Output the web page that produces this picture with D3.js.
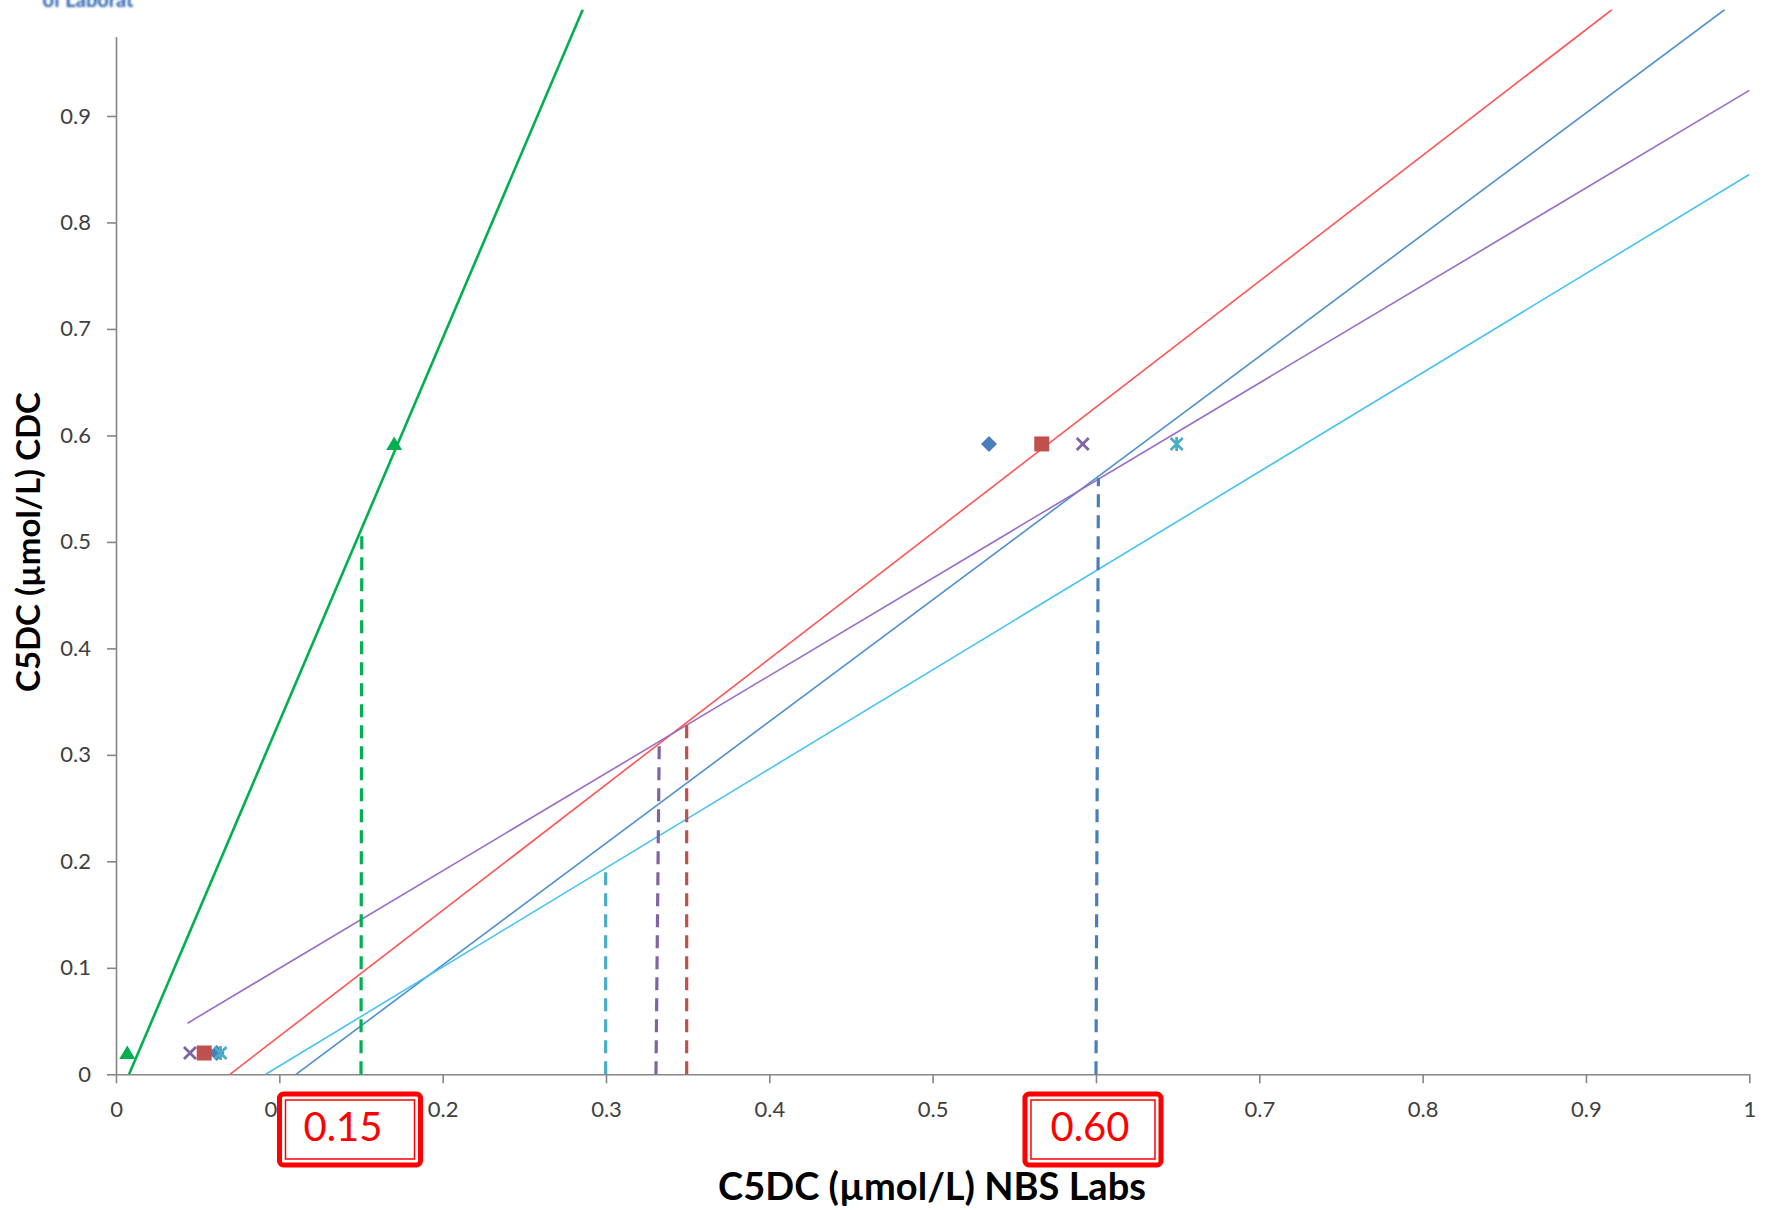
<!DOCTYPE html>
<html>
<head>
<meta charset="utf-8">
<script src="https://cdn.jsdelivr.net/npm/d3@7"></script>
<style>
  html, body { margin: 0; padding: 0; background: #ffffff; }
  svg { display: block; }
</style>
</head>
<body>
<svg id="chart" width="1771" height="1210"></svg>
<script>
// ---------------- DATA ----------------
const xTicks = [0, 0.1, 0.2, 0.3, 0.4, 0.5, 0.6, 0.7, 0.8, 0.9, 1];
const yTicks = [0, 0.1, 0.2, 0.3, 0.4, 0.5, 0.6, 0.7, 0.8, 0.9];
const xTickLabels = ["0", "0.1", "0.2", "0.3", "0.4", "0.5", "0.6", "0.7", "0.8", "0.9", "1"];
const yTickLabels = ["0", "0.1", "0.2", "0.3", "0.4", "0.5", "0.6", "0.7", "0.8", "0.9"];

// five series, each with a low and a high point
const seriesNames   = ["diamond", "square", "triangle", "cross", "star"];
const seriesLowX    = [0.0616, 0.054, 0.0069, 0.0453, 0.064];
const seriesHighX   = [0.5345, 0.5668, 0.1703, 0.5919, 0.6494];
const seriesLowY    = [0.02, 0.02, 0.02, 0.02, 0.02];
const seriesHighY   = [0.592, 0.592, 0.592, 0.592, 0.592];

// fitted lines (start / end points in data units)
const lineNames = ["green", "red", "blue", "purple", "cyan"];
const lineX0 = [0.008, 0.0698, 0.1102, 0.0438, 0.0917];
const lineY0 = [0, 0, 0, 0.048, 0];
const lineX1 = [0.2858, 0.916, 0.985, 1.0, 1.0];
const lineY1 = [1.0, 1.0, 1.0, 0.924, 0.845];

// dashed cut-off drop lines
const dropNames = ["green", "cyan", "purple", "red", "blue"];
const dropXBottom = [0.150, 0.2998, 0.3306, 0.3494, 0.600];
const dropXTop    = [0.1505, 0.2998, 0.3326, 0.3494, 0.6015];
const dropYTop    = [0.510, 0.1966, 0.311, 0.328, 0.560];

// boxed annotations
const annotationValues = [0.15, 0.60];
const annotationLabels = ["0.15", "0.60"];

const xTitle = "C5DC (µmol/L) NBS Labs";
const yTitle = "C5DC (µmol/L) CDC";

// ---------------- STYLE ----------------
const markerColors = {diamond: "#4a7ebb", square: "#c0504d", triangle: "#00b050", cross: "#8064a2", star: "#4bacc6"};
const lineColors = {green: "#00b050", red: "#ff5454", blue: "#4f8fce", purple: "#9a6cc8", cyan: "#45c3f3"};
const lineWidths = {green: 2.6, red: 1.6, blue: 1.6, purple: 1.6, cyan: 1.6};
const dropColors = {green: "#00b050", cyan: "#4bacc6", purple: "#8064a2", red: "#c0504d", blue: "#4a7ebb"};

const svg = d3.select("#chart");
const FONT = "Lato, 'Open Sans', sans-serif";

const plotLeft = 116, plotRight = 1749.3, plotBottom = 1074.3, plotTop = 9.5;
const x = d3.scaleLinear().domain([0, 1]).range([plotLeft, plotRight]);
const y = d3.scaleLinear().domain([0, 1]).range([plotBottom, plotTop]);

// ---------------- AXES ----------------
const axisColor = "#868686";
const gx = svg.append("g").attr("transform", `translate(0,${plotBottom})`)
  .call(d3.axisBottom(x).tickValues(xTicks).tickSize(9).tickSizeOuter(0)
        .tickFormat((d, i) => xTickLabels[i]));
gx.select(".domain").attr("stroke", axisColor).attr("stroke-width", 1.6);
gx.selectAll(".tick line").attr("stroke", axisColor).attr("stroke-width", 1.6);
gx.selectAll(".tick text").attr("dy", null).attr("y", 43)
  .attr("font-family", FONT).attr("font-size", 22).attr("fill", "#404040");

const gy = svg.append("g").attr("transform", `translate(${plotLeft},0)`)
  .call(d3.axisLeft(y).tickValues(yTicks).tickSize(9).tickSizeOuter(0).tickPadding(16)
        .tickFormat((d, i) => yTickLabels[i]));
gy.select(".domain").attr("stroke", axisColor).attr("stroke-width", 1.6);
gy.selectAll(".tick line").attr("stroke", axisColor).attr("stroke-width", 1.6);
gy.selectAll(".tick text").attr("font-family", FONT).attr("font-size", 22).attr("fill", "#404040");

// ---------------- FITTED LINES ----------------
const clipId = "plotclip";
svg.append("clipPath").attr("id", clipId).append("rect")
  .attr("x", plotLeft).attr("y", plotTop).attr("width", plotRight - plotLeft + 2).attr("height", plotBottom - plotTop);

const lineData = lineNames.map((n, i) => ({name: n, x0: lineX0[i], y0: lineY0[i], x1: lineX1[i], y1: lineY1[i]}));
svg.append("g").attr("clip-path", `url(#${clipId})`)
  .selectAll("line").data(lineData).join("line")
  .attr("x1", d => x(d.x0)).attr("y1", d => y(d.y0))
  .attr("x2", d => x(d.x1)).attr("y2", d => y(d.y1))
  .attr("stroke", d => lineColors[d.name])
  .attr("stroke-width", d => lineWidths[d.name]);

// ---------------- DROP LINES ----------------
const dropData = dropNames.map((n, i) => ({name: n, xb: dropXBottom[i], xt: dropXTop[i], yt: dropYTop[i]}));
svg.append("g").selectAll("line").data(dropData).join("line")
  .attr("x1", d => x(d.xb)).attr("y1", y(0))
  .attr("x2", d => x(d.xt)).attr("y2", d => y(d.yt))
  .attr("stroke", d => dropColors[d.name])
  .attr("stroke-width", 3.2)
  .attr("stroke-dasharray", "13,8");

// ---------------- MARKERS ----------------
const points = [];
seriesNames.forEach((n, i) => {
  points.push({name: n, x: seriesLowX[i], y: seriesLowY[i]});
  points.push({name: n, x: seriesHighX[i], y: seriesHighY[i]});
});

const mg = svg.append("g");
points.forEach(p => {
  const cx = x(p.x), cy = y(p.y), c = markerColors[p.name];
  const g = mg.append("g").attr("transform", `translate(${cx},${cy})`);
  if (p.name === "diamond") {
    g.append("path").attr("d", "M0,-8 L8,0 L0,8 L-8,0 Z").attr("fill", c);
  } else if (p.name === "square") {
    g.append("rect").attr("x", -7.5).attr("y", -7.5).attr("width", 15).attr("height", 15).attr("fill", c);
  } else if (p.name === "triangle") {
    g.append("path").attr("d", "M0,-7.5 L8,6 L-8,6 Z").attr("fill", c);
  } else if (p.name === "cross") {
    g.append("path").attr("d", "M-6,-6 L6,6 M6,-6 L-6,6").attr("stroke", c).attr("stroke-width", 2.8).attr("fill", "none");
  } else if (p.name === "star") {
    g.append("path").attr("d", "M-6,-6 L6,6 M6,-6 L-6,6 M0,-7 L0,7").attr("stroke", c).attr("stroke-width", 2.8).attr("fill", "none");
  }
});

// ---------------- BOXED ANNOTATIONS ----------------
const boxW = [141, 136], boxH = 71;
const boxOffsets = [-11, -3];
const textOffsets = [-7, -3];
annotationValues.forEach((v, i) => {
  const cx = x(v) + boxOffsets[i];
  const top = 1094;
  const w = boxW[i];
  const g = svg.append("g");
  g.append("rect").attr("x", cx - w / 2).attr("y", top).attr("width", w).attr("height", boxH)
    .attr("rx", 4).attr("fill", "#ffffff").attr("stroke", "#ff0000").attr("stroke-width", 5);
  g.append("rect").attr("x", cx - w / 2 + 6).attr("y", top + 6).attr("width", w - 12).attr("height", boxH - 12)
    .attr("fill", "none").attr("stroke", "#ff0000").attr("stroke-width", 1.5);
  g.append("text").attr("x", cx + textOffsets[i]).attr("y", top + 47).attr("text-anchor", "middle")
    .attr("font-family", FONT).attr("font-size", 40).attr("fill", "#ff0000").text(annotationLabels[i]);
});

// ---------------- AXIS TITLES ----------------
svg.append("text").attr("x", 932).attr("y", 1200).attr("text-anchor", "middle")
  .attr("font-family", FONT).attr("font-weight", "bold").attr("font-size", 38).attr("fill", "#000")
  .text(xTitle);
svg.append("text").attr("transform", "translate(40,542) rotate(-90)").attr("text-anchor", "middle")
  .attr("font-family", FONT).attr("font-weight", "bold").attr("font-size", 33).attr("fill", "#000")
  .text(yTitle);

// ---------------- LOGO FRAGMENT (top-left, cropped) ----------------
const logo = svg.append("g");
logo.append("rect").attr("x", 0).attr("y", 0).attr("width", 150).attr("height", 37).attr("fill", "#ffffff");
const defs = svg.append("defs");
defs.append("filter").attr("id", "soft").append("feGaussianBlur").attr("stdDeviation", 0.8);
logo.append("clipPath").attr("id", "logoclip").append("rect").attr("x", 0).attr("y", 0).attr("width", 150).attr("height", 9);
logo.append("g").attr("clip-path", "url(#logoclip)")
  .append("text").attr("x", 88).attr("y", 7).attr("text-anchor", "middle")
  .attr("filter", "url(#soft)")
  .attr("font-family", FONT).attr("font-weight", "bold").attr("font-size", 20).attr("fill", "#2a62b0")
  .text("of Laborat");
</script>
</body>
</html>
